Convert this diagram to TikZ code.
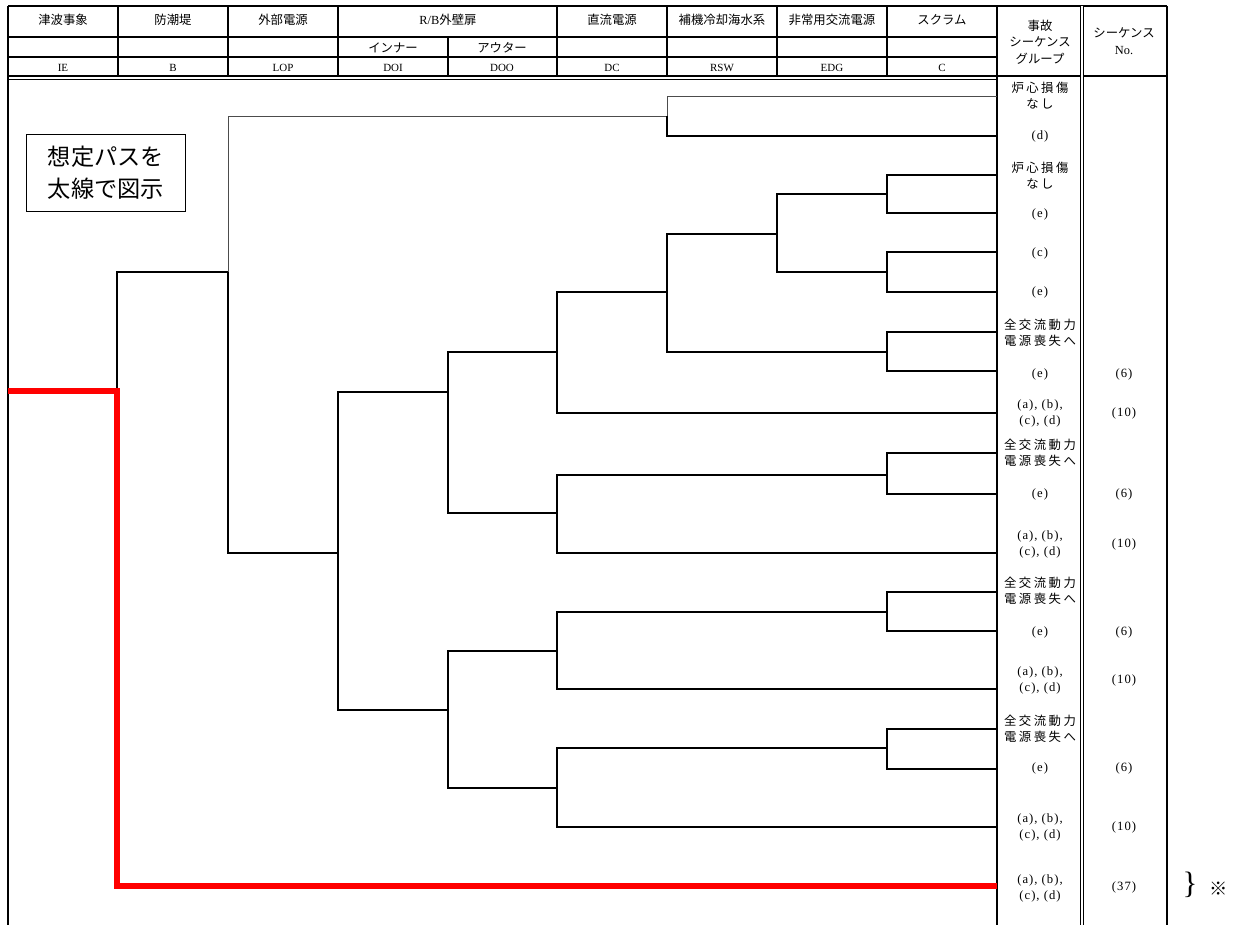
\documentclass[tikz,border=0pt]{standalone}
\usepackage{fontspec}
\setmainfont{Liberation Serif}
\newfontfamily\jp{Noto Sans CJK JP}
\newfontfamily\jpsp[LetterSpace=20]{Noto Sans CJK JP}
\newfontfamily\latsp[LetterSpace=8]{Liberation Serif}
\tikzset{
	rule/.style={line width=0.9pt},
	br/.style={line width=1.2pt},
	brthin/.style={line width=0.7pt,black!70},
	hpath/.style={line width=4.3pt,red},
	hd/.style={font=\jp\fontsize{8.8}{11.8}\selectfont,inner sep=0pt,align=center},
	code/.style={font=\fontsize{7.8}{8}\selectfont,inner sep=0pt},
	grp/.style={font=\jpsp\fontsize{8.8}{11.4}\selectfont,inner sep=0pt,align=center},
	res/.style={font=\latsp\fontsize{9}{11.4}\selectfont,inner sep=0pt,align=center},
	note/.style={draw,line width=1pt,font=\jp\fontsize{16.5}{22.8}\selectfont,align=center,minimum width=3.975cm,minimum height=1.925cm}
}
\begin{document}
\begin{tikzpicture}[x=0.025cm,y=-0.025cm]
	\useasboundingbox (0,0) rectangle (1240,925);
	\draw[rule] (8,6) -- (1167,6);
	\draw[rule] (8,37) -- (997,37);
	\draw[rule] (8,57) -- (997,57);
	\draw[rule] (8,76) -- (1167,76);
	\draw[line width=0.5pt] (8,79) -- (997,79);
	\draw[rule] (8,6) -- (8,925);
	\foreach \x in {118,228,338,557,667,777,887}
		\draw[rule] (\x,6) -- (\x,76);
	\draw[rule] (448,37) -- (448,76);
	\draw[line width=1.4pt] (997,6) -- (997,925);
	\draw[rule,double,double distance=1.1pt] (1082,6) -- (1082,925);
	\draw[rule] (1167,6) -- (1167,925);
	\foreach \x/\t/\c [count=\i] in {63/津波事象/IE,173/防潮堤/B,283/外部電源/LOP,612/直流電源/DC,722/補機冷却海水系/RSW,832/非常用交流電源/EDG,942/スクラム/C}{
		\node[hd] (h\i) at (\x,20) {\t};
		\node[code] (k\i) at (\x,68) {\c};
	}
	\node[hd] (hrb) at (448,20) {{\normalfont R/B}外壁扉};
	\node[hd] (hdoi) at (393,48) {インナー};
	\node[hd] (hdoo) at (502,48) {アウター};
	\node[code] (kdoi) at (393,68) {DOI};
	\node[code] (kdoo) at (502,68) {DOO};
	\node[hd] (hgrp) at (1040,42) {事故\\シーケンス\\グループ};
	\node[hd] (hno) at (1124,41) {シーケンス\\{\normalfont No.}};
	\node[note] (legend) at (106,173) {想定パスを\\太線で図示};
	\coordinate (ie) at (8,391);
	\coordinate (b) at (117,391);
	\coordinate (lop) at (228,272);
	\coordinate (r0) at (667,116);
	\coordinate (doi) at (338,553);
	\coordinate (doo1) at (448,392);
	\coordinate (doo2) at (448,710);
	\coordinate (dc1) at (557,352);
	\coordinate (dc2) at (557,513);
	\coordinate (dc3) at (557,651);
	\coordinate (dc4) at (557,788);
	\coordinate (rsw) at (667,292);
	\coordinate (edg) at (777,234);
	\coordinate (c1) at (887,194);
	\coordinate (c2) at (887,272);
	\coordinate (c3) at (887,352);
	\coordinate (c4) at (887,475);
	\coordinate (c5) at (887,612);
	\coordinate (c6) at (887,748);
	\foreach \y [count=\i] in {96,136,175,213,252,292,332,371,413,453,494,553,592,631,689,729,769,827,886}
		\coordinate (e\i) at (997,\y);
	\foreach \p/\c in {lop/r0,r0/e1}
		\draw[brthin] (\p) |- (\c);
	\foreach \p/\c in {b/lop,lop/doi,r0/e2,doi/doo1,doi/doo2,doo1/dc1,doo1/dc2,dc1/rsw,dc1/e9,rsw/edg,rsw/c3,edg/c1,edg/c2,c1/e3,c1/e4,c2/e5,c2/e6,c3/e7,c3/e8,dc2/c4,dc2/e12,c4/e10,c4/e11,doo2/dc3,doo2/dc4,dc3/c5,dc3/e15,c5/e13,c5/e14,dc4/c6,dc4/e18,c6/e16,c6/e17}
		\draw[br] (\p) |- (\c);
	\draw[hpath] (ie) -- (b) |- (e19);
	\foreach \y/\s/\t [count=\i] in {96/grp/{炉心損傷\\なし},136/res/(d),176/grp/{炉心損傷\\なし},214/res/(e),253/res/(c),292/res/(e),333/grp/{全交流動力\\電源喪失へ},374/res/(e),413/res/{(a), (b),\\(c), (d)},453/grp/{全交流動力\\電源喪失へ},494/res/(e),544/res/{(a), (b),\\(c), (d)},591/grp/{全交流動力\\電源喪失へ},632/res/(e),680/res/{(a), (b),\\(c), (d)},729/grp/{全交流動力\\電源喪失へ},768/res/(e),827/res/{(a), (b),\\(c), (d)},888/res/{(a), (b),\\(c), (d)}}
		\node[\s] (g\i) at (1040,\y) {\t};
	\foreach \y/\t [count=\i] in {374/(6),413/(10),494/(6),544/(10),632/(6),680/(10),768/(6),827/(10),887/(37)}
		\node[res] (n\i) at (1124,\y) {\t};
	\node[inner sep=0pt,font=\fontsize{22}{22}\selectfont] (brace) at (1190,885) {\}};
	\node[inner sep=0pt,font=\jp\fontsize{13}{13}\selectfont] (mark) at (1219,889) {※};
\end{tikzpicture}
\end{document}
